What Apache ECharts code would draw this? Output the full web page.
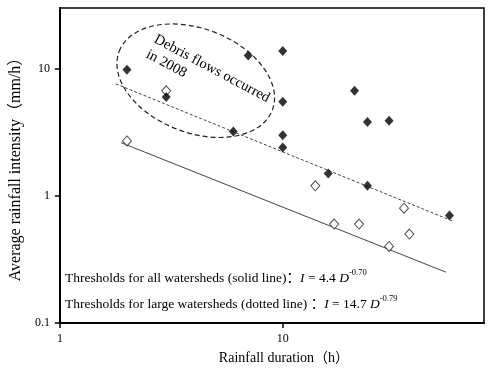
<!DOCTYPE html>
<html>
<head>
<meta charset="utf-8">
<script src="https://cdn.jsdelivr.net/npm/echarts@6/dist/echarts.min.js"></script>
<style>html,body{margin:0;padding:0;background:#fff;}#c{width:500px;height:373px;}</style>
</head>
<body>
<div id="c"></div>
<script>
// Debris flows (filled diamonds): [duration h, intensity mm/h]
const filledPoints = [
  [2, 9.8], [3, 6.0], [6, 3.2], [7, 12.7], [10, 13.8], [10, 5.5], [10, 3.0], [10, 2.4],
  [16, 1.5], [21, 6.7], [24, 3.8], [24, 1.2], [30, 3.9], [56, 0.7]
];
// Open diamonds
const openPoints = [
  [2, 2.7], [3, 6.7], [14, 1.2], [17, 0.6], [22, 0.6], [30, 0.4], [35, 0.8], [37, 0.5]
];
// Threshold lines (end points)
const solidLine = [[1.88, 2.62], [54, 0.251]];
const dottedLine = [[1.78, 7.6], [58.3, 0.63]];
// Axis ticks
const xTicks = [1, 10];
const yTicks = [0.1, 1, 10];
const xRange = [1, 80];
const yRange = [0.1, 30];
// Ellipse annotation centre (data coords)
const ellipseCenter = [4.07, 8.04];

const serif = '"Liberation Serif", "Times New Roman", "Noto Sans CJK SC", serif';
const chart = echarts.init(document.getElementById('c'), null, {renderer: 'canvas'});

const option = {
  backgroundColor: '#fff',
  animation: false,
  grid: {left: 57, right: 16, top: 8, bottom: 50, show: true, borderColor: '#000', borderWidth: 1.5, backgroundColor: 'transparent'},
  xAxis: {
    type: 'log', logBase: 10, min: xRange[0], max: xRange[1],
    name: 'Rainfall duration（h）', nameLocation: 'middle', nameGap: 28,
    nameTextStyle: {fontFamily: serif, fontSize: 14, color: '#000', padding: [0, 0, 0, 24]},
    axisLine: {lineStyle: {color: '#000', width: 2}},
    axisTick: {inside: false, length: 5, lineStyle: {color: '#000', width: 1.5}, customValues: xTicks},
    axisLabel: {customValues: xTicks, fontFamily: serif, fontSize: 12, color: '#000', margin: 10,
      formatter: v => String(+v.toPrecision(3))},
    splitLine: {show: false}, minorTick: {show: false}
  },
  yAxis: {
    type: 'log', logBase: 10, min: yRange[0], max: yRange[1],
    name: 'Average rainfall intensity（mm/h）', nameLocation: 'middle', nameGap: 31, nameRotate: 90,
    nameTextStyle: {fontFamily: serif, fontSize: 16, color: '#000'},
    axisLine: {lineStyle: {color: '#000', width: 2}},
    axisTick: {inside: false, length: 5, lineStyle: {color: '#000', width: 1.5}, customValues: yTicks},
    axisLabel: {customValues: yTicks, fontFamily: serif, fontSize: 12, color: '#000', margin: 10,
      formatter: v => String(+v.toPrecision(3))},
    splitLine: {show: false}, minorTick: {show: false}
  },
  series: [
    {type: 'line', data: solidLine, symbol: 'none', lineStyle: {color: '#444', width: 1}, z: 2},
    {type: 'line', data: dottedLine, symbol: 'none', lineStyle: {color: '#444', width: 1, type: [3, 2]}, z: 2},
    {type: 'scatter', data: openPoints, symbol: 'diamond', symbolSize: [9, 10],
      itemStyle: {color: '#fff', borderColor: '#222', borderWidth: 1}, z: 3},
    {type: 'scatter', data: filledPoints, symbol: 'diamond', symbolSize: [9, 10],
      itemStyle: {color: '#000'}, z: 4}
  ]
};
chart.setOption(option);

const ec = chart.convertToPixel({gridIndex: 0}, ellipseCenter);
const richStyles = {
  t: {fontFamily: serif, fontSize: 13.5, fill: '#000'},
  i: {fontFamily: serif, fontSize: 13.5, fontStyle: 'italic', fill: '#000'},
  s: {fontFamily: serif, fontSize: 8.5, fill: '#000', padding: [0, 0, 10, 0]}
};
chart.setOption({
  graphic: [
    {type: 'ellipse', x: ec[0], y: ec[1], rotation: -21 * Math.PI / 180,
      shape: {cx: 0, cy: 0, rx: 82, ry: 52}, silent: true, z: 10,
      style: {fill: null, stroke: '#222', lineWidth: 1.2, lineDash: [5, 3]}},
    {type: 'text', x: 159, y: 31, rotation: -28 * Math.PI / 180, z: 10,
      style: {text: 'Debris flows occurred\nin 2008', font: '14.5px ' + serif, fill: '#000',
        textAlign: 'left', textVerticalAlign: 'top', lineHeight: 17}},
    {type: 'text', x: 65, y: 278, z: 10,
      style: {
        text: '{t|Thresholds for all watersheds (solid line)：}{i|I}{t| = 4.4 }{i|D}{s|-0.70}',
        textVerticalAlign: 'middle', textAlign: 'left', rich: richStyles
      }},
    {type: 'text', x: 65, y: 304, z: 10,
      style: {
        text: '{t|Thresholds for large watersheds (dotted line) ：}{i|I}{t| = 14.7 }{i|D}{s|-0.79}',
        textVerticalAlign: 'middle', textAlign: 'left', rich: richStyles
      }}
  ]
});
</script>
</body>
</html>
